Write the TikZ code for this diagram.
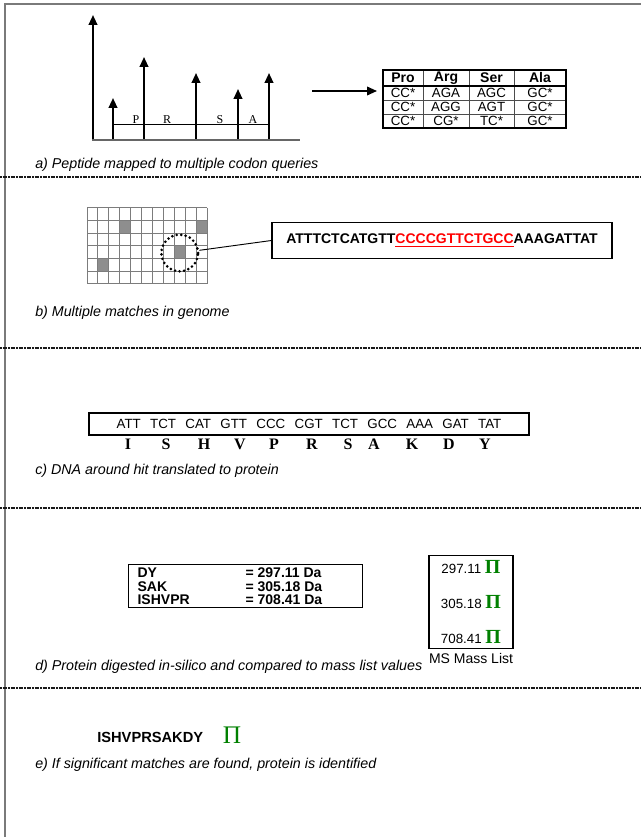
\documentclass[tikz,border=0pt]{standalone}
\usepackage{fontspec}
\setmainfont{Liberation Sans}
\newfontfamily\timesfont{Liberation Serif}
\usepackage{tikz}
\usetikzlibrary{arrows.meta, calc, positioning}
\definecolor{frameg}{HTML}{7A7A7A}
\definecolor{gridg}{HTML}{7C7C7C}
\definecolor{cellg}{HTML}{8E8E8E}
\definecolor{hitred}{HTML}{FF0000}
\definecolor{pigreen}{HTML}{008000}
\tikzset{
  framel/.style    = {draw=frameg, line width=1.3pt},
  sepline/.style   = {draw=black!90, line width=1.4pt, dash pattern=on 1.6pt off 0.4pt},
  peakarrow/.style = {draw=black, line width=1.5pt, -{Triangle[width=6.5pt, length=7.5pt]}},
  axisl/.style     = {draw=gray!80!black, line width=1.5pt},
  queryarrow/.style= {draw=black, line width=1.2pt, -{Triangle[width=6.5pt, length=7.5pt]}},
  aalab/.style     = {font=\timesfont\fontsize{9}{9}\selectfont, inner sep=0pt, anchor=south},
  tabrule/.style   = {draw=black, line width=1pt},
  tabinner/.style  = {draw=black!70, line width=0.6pt},
  tabcell/.style   = {font=\fontsize{10}{10}\selectfont, inner sep=0pt},
  tabhead/.style   = {font=\bfseries\fontsize{10.5}{10.5}\selectfont, inner sep=0pt},
  gridl/.style     = {draw=gridg, line width=0.75pt},
  hitring/.style   = {circle, minimum size=27.5pt, inner sep=0pt, draw=black, line width=2.2pt,
                      dash pattern=on 0pt off 3.4pt, line cap=round},
  linkline/.style  = {draw=black, line width=0.7pt},
  seqbox/.style    = {draw=black, line width=0.9pt, minimum width=255pt, minimum height=27.5pt,
                      font=\bfseries\fontsize{10.5}{10.5}\selectfont},
  codonbox/.style  = {draw=black, line width=0.8pt, minimum width=330pt, minimum height=16.5pt,
                      inner sep=0pt, font=\fontsize{10}{10}\selectfont},
  aminolab/.style  = {font=\timesfont\bfseries\fontsize{12}{12}\selectfont, inner sep=0pt},
  massbox/.style   = {draw=black, line width=0.9pt},
  capt/.style      = {anchor=west, font=\itshape\fontsize{10.7}{10.7}\selectfont, inner sep=0pt},
}
\newcommand{\msPeak}[3]{%
  \coordinate (#1b) at (#2,140);
  \coordinate (#1t) at (#2,#3);
  \draw[peakarrow] (#1b) -- (#1t);}
\newcommand{\cgap}{\hspace{7pt}}
\newcommand{\pimark}{{\timesfont\bfseries\fontsize{15}{15}\selectfont\textcolor{pigreen}{Π}}}

\begin{document}
\begin{tikzpicture}[x=0.75pt, y=-0.75pt]
  \useasboundingbox (0,0) rectangle (641,837);
  \draw[framel] (641,4) -- (5,4) -- (5,837);
  \draw[sepline] (0,177) -- (641,177);
  \draw[sepline] (0,348) -- (641,348);
  \draw[sepline] (0,508) -- (641,508);
  \draw[sepline] (0,688) -- (641,688);

  \msPeak{pk0}{93}{15}
  \msPeak{pk1}{113}{98}
  \msPeak{pk2}{144}{57}
  \msPeak{pk3}{196}{73}
  \msPeak{pk4}{238}{89}
  \msPeak{pk5}{269}{73}
  \draw[axisl] (92,140) -- (300,140);
  \coordinate (fragL) at (113,124);
  \coordinate (fragR) at (269,124);
  \draw[draw=black, line width=0.7pt] (fragL) -- (fragR);
  \node[aalab] (lP) at (136,123.5) {P};
  \node[aalab] (lR) at (167,123.5) {R};
  \node[aalab] (lS) at (220,123.5) {S};
  \node[aalab] (lA) at (253,123.5) {A};
  \coordinate (qFrom) at (312,91);
  \coordinate (qTo) at (377,91);
  \draw[queryarrow] (qFrom) -- (qTo);
  \draw[tabinner] (423,70) -- (423,128);
  \draw[tabinner] (469,70) -- (469,128);
  \draw[tabinner] (514,70) -- (514,128);
  \draw[tabinner] (383,100) -- (566,100);
  \draw[tabinner] (383,114) -- (566,114);
  \draw[tabrule] (383,86) -- (566,86);
  \draw[tabrule] (383,70) rectangle (566,128);
  \node[tabhead] (hPro) at (403,78) {Pro};
  \node[tabhead] (hArg) at (446,78) {Arg};
  \node[tabhead] (hSer) at (491.5,78) {Ser};
  \node[tabhead] (hAla) at (540,78) {Ala};
  \node[tabcell] (pro1) at (403,93) {CC*};
  \node[tabcell] (arg1) at (446,93) {AGA};
  \node[tabcell] (ser1) at (491.5,93) {AGC};
  \node[tabcell] (ala1) at (540,93) {GC*};
  \node[tabcell] (pro2) at (403,107) {CC*};
  \node[tabcell] (arg2) at (446,107) {AGG};
  \node[tabcell] (ser2) at (491.5,107) {AGT};
  \node[tabcell] (ala2) at (540,107) {GC*};
  \node[tabcell] (pro3) at (403,121) {CC*};
  \node[tabcell] (arg3) at (446,121) {CG*};
  \node[tabcell] (ser3) at (491.5,121) {TC*};
  \node[tabcell] (ala3) at (540,121) {GC*};
  \node[capt] (captA) at (35,165) {a) Peptide mapped to multiple codon queries};

  \foreach \r/\c in {1/3, 1/10, 3/8, 4/1}
    \fill[cellg] ({87+\c*120/11},{208+\r*76/6}) rectangle ++({120/11},{76/6});
  \foreach \i in {0,...,11}
    \draw[gridl] ({87+\i*120/11},208) -- ++(0,76);
  \foreach \j in {0,...,6}
    \draw[gridl] (87,{208+\j*76/6}) -- ++(120,0);
  \node[hitring] (ring) at (179.7,253) {};
  \node[seqbox] (seq) at (442,240.5)
    {ATTTCTCATGTT\textcolor{hitred}{\underline{CCCCGTTCTGCC}}AAAGATTAT};
  \draw[linkline] (ring) -- (seq.west);
  \node[capt] (captB) at (35,313) {b) Multiple matches in genome};

  \node[codonbox] (cod) at (309,424)
    {ATT\cgap TCT\cgap CAT\cgap GTT\cgap CCC\cgap CGT\cgap TCT\cgap GCC\cgap AAA\cgap GAT\cgap TAT};
  \node[aminolab] (aa1) at (128,444) {I};
  \node[aminolab] (aa2) at (166,444) {S};
  \node[aminolab] (aa3) at (204,444) {H};
  \node[aminolab] (aa4) at (240,444) {V};
  \node[aminolab] (aa5) at (274,444) {P};
  \node[aminolab] (aa6) at (312,444) {R};
  \node[aminolab] (aa7) at (348,444) {S};
  \node[aminolab] (aa8) at (374,444) {A};
  \node[aminolab] (aa9) at (412,444) {K};
  \node[aminolab] (aa10) at (449,444) {D};
  \node[aminolab] (aa11) at (485,444) {Y};
  \node[capt] (captC) at (35,471) {c) DNA around hit translated to protein};

  \node[massbox, anchor=north west, align=left, inner xsep=6.75pt, inner ysep=2.5pt,
        font=\bfseries\fontsize{10.5}{10}\selectfont] (frag) at (128,564)
    {\makebox[81pt][l]{DY}\makebox[81pt][l]{= 297.11 Da}\\
     \makebox[81pt][l]{SAK}\makebox[81pt][l]{= 305.18 Da}\\
     \makebox[81pt][l]{ISHVPR}\makebox[81pt][l]{= 708.41 Da}};
  \node[massbox, align=center, inner xsep=9pt, inner ysep=4pt,
        font=\fontsize{10}{26}\selectfont] (ms) at (471,602)
    {297.11 \pimark\\305.18 \pimark\\708.41 \pimark};
  \node[below=2pt of ms, font=\fontsize{10.5}{10.5}\selectfont, inner sep=1pt] (mslab) {MS Mass List};
  \node[capt] (captD) at (35,667) {d) Protein digested in-silico and compared to mass list values};

  \node[anchor=west, font=\bfseries\fontsize{11}{11}\selectfont, inner sep=0pt] (ident) at (97,737) {ISHVPRSAKDY};
  \node[font=\timesfont\fontsize{19}{19}\selectfont, text=pigreen, inner sep=0pt] (idpi) at (232,735) {Π};
  \node[capt] (captE) at (35,765) {e) If significant matches are found, protein is identified};
\end{tikzpicture}
\end{document}
